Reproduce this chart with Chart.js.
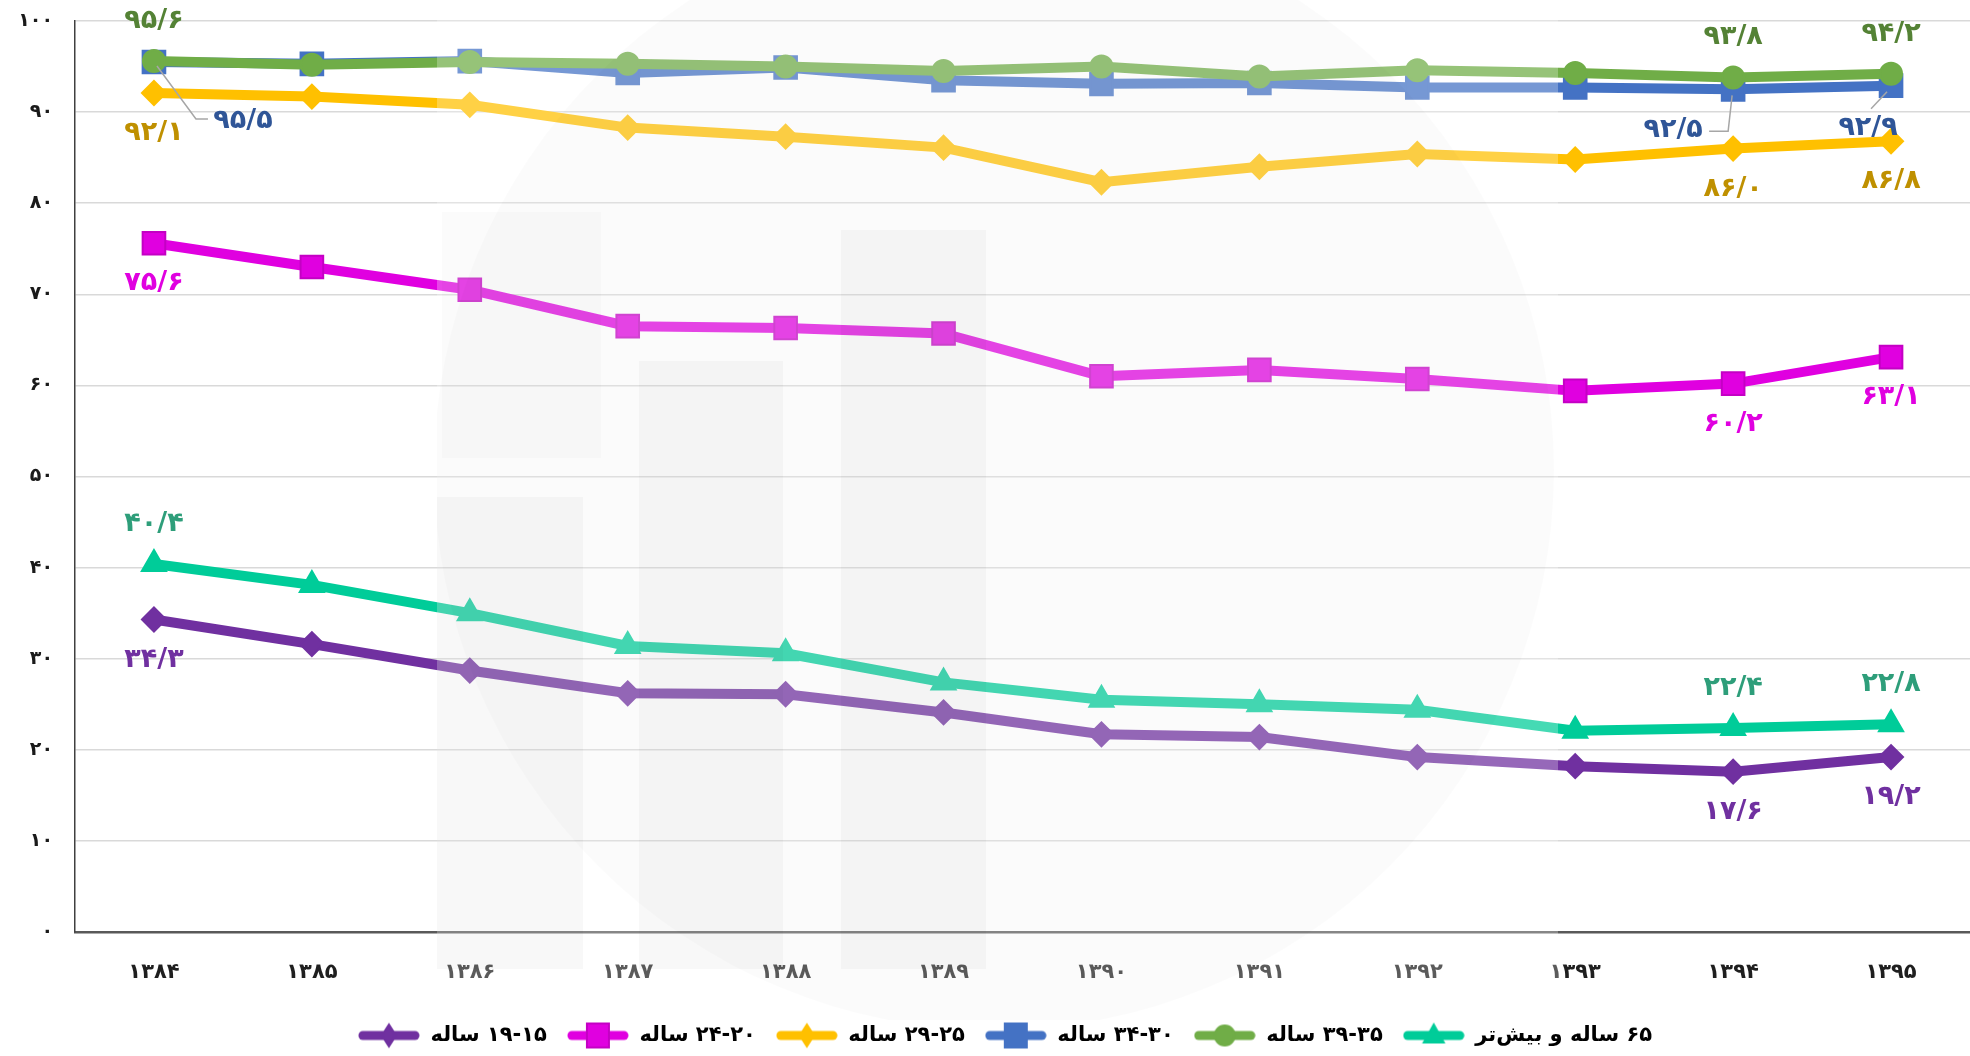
<!DOCTYPE html>
<html>
<head>
<meta charset="utf-8">
<script src="https://cdn.jsdelivr.net/npm/chart.js@4.4.1/dist/chart.umd.min.js"></script>
<style>
  html, body { margin: 0; padding: 0; background: #fff; }
  #wrap { width: 1970px; height: 1056px; }
</style>
</head>
<body>
<div id="wrap"><canvas id="myChart" width="1970" height="1056"></canvas></div>
<script>
// years (solar hijri)
const years = ['۱۳۸۴', '۱۳۸۵', '۱۳۸۶', '۱۳۸۷', '۱۳۸۸', '۱۳۸۹', '۱۳۹۰', '۱۳۹۱', '۱۳۹۲', '۱۳۹۳', '۱۳۹۴', '۱۳۹۵'];

// series values, percent
const age15to19 = [34.3, 31.6, 28.7, 26.2, 26.1, 24.1, 21.7, 21.4, 19.2, 18.2, 17.6, 19.2];
const age20to24 = [75.6, 73.0, 70.5, 66.5, 66.3, 65.7, 61.0, 61.7, 60.7, 59.4, 60.2, 63.1];
const age25to29 = [92.1, 91.7, 90.8, 88.3, 87.3, 86.1, 82.3, 84.0, 85.4, 84.8, 86.0, 86.8];
const age30to34 = [95.5, 95.3, 95.6, 94.3, 94.9, 93.5, 93.1, 93.2, 92.7, 92.7, 92.5, 92.9];
const age35to39 = [95.6, 95.2, 95.5, 95.3, 95.0, 94.5, 95.0, 93.9, 94.6, 94.3, 93.8, 94.2];
const age65plus = [40.4, 38.1, 35.0, 31.4, 30.6, 27.4, 25.5, 25.0, 24.4, 22.1, 22.4, 22.8];

const seriesNames = ['۱۵\u200F-\u200F۱۹ ساله', '۲۰\u200F-\u200F۲۴ ساله', '۲۵\u200F-\u200F۲۹ ساله', '۳۰\u200F-\u200F۳۴ ساله', '۳۵\u200F-\u200F۳۹ ساله', '۶۵ ساله و بیش‌تر'];
const yTicks = [0, 10, 20, 30, 40, 50, 60, 70, 80, 90, 100];

// which points carry a value label
const labelledPoints = [0, 10, 11];

const FONT = "'DejaVu Sans', 'Noto Sans', sans-serif";

const toFa = (s) => String(s).replace(/[0-9]/g, (d) => '۰۱۲۳۴۵۶۷۸۹'[d]);

// styling per series
const styles = [
  { color: '#7030a0', border: '#7030a0', point: 'rectRot', radius: 12, label: '#7030a0', side: 1 },
  { color: '#e000e0', border: '#c400c4', point: 'rect', radius: 16, label: '#e000e0', side: 1 },
  { color: '#ffc000', border: '#ffc000', point: 'rectRot', radius: 12, label: '#bf9000', side: 1 },
  { color: '#4472c4', border: '#4472c4', point: 'rect', radius: 16, label: '#2f5597', side: 1 },
  { color: '#70ad47', border: '#70ad47', point: 'circle', radius: 11, label: '#548235', side: -1 },
  { color: '#00cc99', border: '#00cc99', point: 'triangle', radius: 14, label: '#2e9e7a', side: -1 }
];

// blue labels sit away from the point with a leader line
const blueLabelOffsets = {
  0: { dx: 89, dy: 59, leader: [[3, 4], [42, 57], [54, 57]] },
  10: { dx: -60, dy: 41, leader: [[-1, 6], [-5, 42], [-24, 42]] },
  11: { dx: -23, dy: 42, leader: [[-4, 6], [-20, 23]] }
};

// small legend icon: thick line with marker in the middle
function makeIcon(st) {
  const c = document.createElement('canvas');
  c.width = 62; c.height = 28;
  const g = c.getContext('2d');
  g.strokeStyle = st.color; g.lineWidth = 9; g.lineCap = 'round';
  g.beginPath(); g.moveTo(5, 14); g.lineTo(57, 14); g.stroke();
  g.fillStyle = st.color; g.strokeStyle = st.border; g.lineWidth = 2;
  g.beginPath();
  if (st.point === 'rect') { g.rect(20, 2, 22, 24); }
  else if (st.point === 'rectRot') { g.moveTo(31, 3); g.lineTo(38, 14); g.lineTo(31, 25); g.lineTo(24, 14); g.closePath(); }
  else if (st.point === 'circle') { g.arc(31, 14, 10, 0, Math.PI * 2); }
  else { g.moveTo(31, 3); g.lineTo(41, 21); g.lineTo(21, 21); g.closePath(); }
  g.fill(); g.stroke();
  return c;
}

const allSeries = [age15to19, age20to24, age25to29, age30to34, age35to39, age65plus];
const drawOrder = [2, 3, 4, 5, 0, 1]; // green over blue

const datasets = allSeries.map((vals, i) => ({
  label: seriesNames[i],
  data: vals,
  borderColor: styles[i].color,
  backgroundColor: styles[i].color,
  borderWidth: 10,
  pointStyle: styles[i].point,
  pointRadius: styles[i].radius,
  pointHoverRadius: styles[i].radius,
  pointBackgroundColor: styles[i].color,
  pointBorderColor: styles[i].border,
  pointBorderWidth: 2,
  tension: 0,
  order: drawOrder[i]
}));

// faint watermark logo over the middle of the chart
const watermark = {
  id: 'watermark',
  afterDraw(chart) {
    const ctx = chart.ctx;
    ctx.save();
    ctx.beginPath();
    ctx.rect(437, 0, 1121, 1020);
    ctx.clip();
    ctx.fillStyle = 'rgba(255,255,255,0.27)';
    ctx.fillRect(437, 0, 1121, 1020);
    ctx.fillStyle = 'rgba(0,0,0,0.014)';
    ctx.beginPath();
    ctx.arc(994, 470, 560, 0, Math.PI * 2);
    ctx.fill();
    ctx.fillStyle = 'rgba(0,0,0,0.028)';
    ctx.fillRect(437, 497, 146, 472);
    ctx.fillRect(639, 361, 144, 608);
    ctx.fillRect(841, 230, 145, 739);
    ctx.fillStyle = 'rgba(0,0,0,0.015)';
    ctx.fillRect(442, 212, 159, 246);
    ctx.restore();
  }
};

// legend in the original sits a little right of centre
const legendShift = {
  id: 'legendShift',
  afterLayout(chart) {
    if (chart.legend) {
      chart.legend.left += 20;
      chart.legend.right += 20;
    }
  }
};

// value labels at first and last two years
const valueLabels = {
  id: 'valueLabels',
  afterDatasetsDraw(chart) {
    const ctx = chart.ctx;
    ctx.save();
    ctx.font = 'bold 27px ' + FONT;
    ctx.textAlign = 'center';
    ctx.textBaseline = 'middle';
    allSeries.forEach((vals, di) => {
      const meta = chart.getDatasetMeta(di);
      labelledPoints.forEach((pi) => {
        const pt = meta.data[pi];
        const txt = toFa(vals[pi].toFixed(1)).replace('.', '/');
        let x = pt.x, y = pt.y + styles[di].side * 40;
        if (di === 3) {
          const o = blueLabelOffsets[pi];
          ctx.strokeStyle = '#a6a6a6';
          ctx.lineWidth = 1.5;
          ctx.beginPath();
          o.leader.forEach((p, k) => {
            if (k === 0) ctx.moveTo(pt.x + p[0], pt.y + p[1]);
            else ctx.lineTo(pt.x + p[0], pt.y + p[1]);
          });
          ctx.stroke();
          x = pt.x + o.dx; y = pt.y + o.dy;
        }
        ctx.fillStyle = styles[di].label;
        ctx.fillText(txt, x, y);
      });
    });
    ctx.restore();
  }
};

const ctx = document.getElementById('myChart').getContext('2d');
new Chart(ctx, {
  type: 'line',
  data: { labels: years, datasets: datasets },
  options: {
    responsive: false,
    animation: false,
    devicePixelRatio: 1,
    layout: { autoPadding: false, padding: { top: 21, right: 0, left: 0, bottom: 0 } },
    plugins: {
      tooltip: { enabled: false },
      legend: {
        position: 'bottom',
        textDirection: 'rtl',
        labels: {
          usePointStyle: true,
          pointStyleWidth: 62,
          padding: 20,
          color: '#262626',
          font: { family: FONT, size: 21, weight: 'bold' },
          sort: (a, b) => a.datasetIndex - b.datasetIndex,
          generateLabels: (chart) => chart.data.datasets.map((ds, i) => ({
            text: ds.label,
            pointStyle: makeIcon(styles[i]),
            fillStyle: styles[i].color,
            strokeStyle: styles[i].color,
            lineWidth: 0,
            hidden: false,
            datasetIndex: i
          }))
        }
      }
    },
    scales: {
      x: {
        offset: true,
        grid: { display: false, drawTicks: false },
        border: { color: '#595959', width: 2.5 },
        ticks: {
          padding: 28,
          color: '#1f1f1f',
          font: { family: FONT, size: 21, weight: 'bold' }
        },
        afterFit: (s) => { s.height = 73; s.paddingLeft = 0; s.paddingRight = 0; }
      },
      y: {
        min: 0,
        max: 100,
        afterBuildTicks: (s) => { s.ticks = yTicks.map((v) => ({ value: v })); },
        grid: { color: '#d9d9d9', lineWidth: 1.5, drawTicks: false },
        border: { color: '#404040', width: 1.5 },
        ticks: {
          padding: 22,
          color: '#1a1a1a',
          font: { family: FONT, size: 19, weight: 'bold' },
          callback: (v) => toFa(v)
        },
        afterFit: (s) => { s.width = 75; s.paddingTop = 0; s.paddingBottom = 0; }
      }
    }
  },
  plugins: [watermark, legendShift, valueLabels]
});
</script>
</body>
</html>
